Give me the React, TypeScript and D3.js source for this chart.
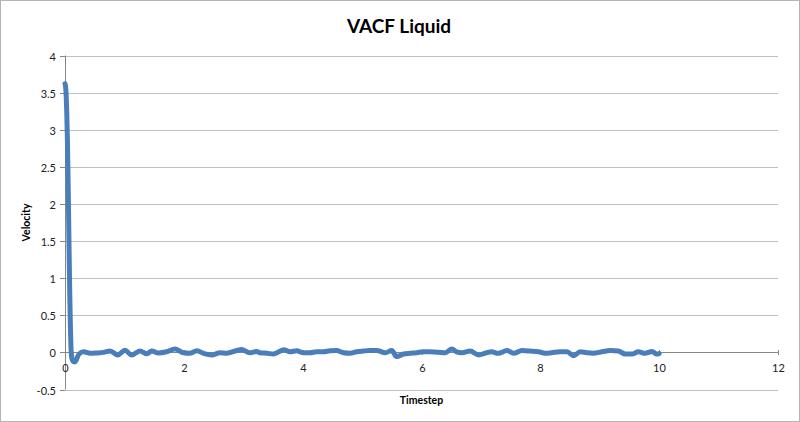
import React from "react";
import * as d3 from "d3";

const title = "VACF Liquid";
const xLabel = "Timestep";
const yLabel = "Velocity";
const xTicks = [0, 2, 4, 6, 8, 10, 12];
const yTicks = [-0.5, 0, 0.5, 1, 1.5, 2, 2.5, 3, 3.5, 4];

const times = [
  0.0, 0.01, 0.02, 0.03, 0.04, 0.05, 0.06, 0.07, 0.08, 0.09, 0.1, 0.115, 0.135, 0.16, 0.185, 0.21, 0.24,
  0.31, 0.42, 0.53, 0.65, 0.76, 0.89, 1.01, 1.12, 1.26, 1.38, 1.46, 1.57,
  1.71, 1.85, 1.99, 2.1, 2.22, 2.33, 2.47, 2.61, 2.72, 2.89, 2.97, 3.11, 3.23,
  3.28, 3.4, 3.51, 3.68, 3.79, 3.9, 4.01, 4.12, 4.24, 4.35, 4.46, 4.57, 4.69, 4.8, 4.91,
  5.02, 5.13, 5.25, 5.39, 5.5, 5.58, 5.7, 5.81, 5.92, 6.03, 6.14, 6.28, 6.4, 6.51, 6.59, 6.68,
  6.82, 6.96, 7.07, 7.18, 7.29, 7.44, 7.55, 7.69, 7.83, 7.97, 8.08, 8.19, 8.33,
  8.45, 8.56, 8.67, 8.78, 8.89, 9.04, 9.18, 9.31, 9.43, 9.54, 9.65, 9.76, 9.88, 9.96, 10.0,
];
const velocities = [
  3.62, 3.58, 3.46, 3.22, 2.88, 2.42, 1.88, 1.32, 0.8, 0.38, 0.08, -0.08, -0.12, -0.13, -0.11, -0.06, -0.02,
  0.01, -0.012, -0.008, 0.0, 0.02, -0.035, 0.03, -0.035, 0.02, -0.02, 0.02, -0.007,
  0.008, 0.045, -0.005, -0.012, 0.022, -0.012, -0.035, -0.005, -0.012, 0.025, 0.04, -0.005, 0.013,
  -0.005, -0.012, -0.022, 0.035, 0.008, 0.022, -0.005, -0.005, 0.008, 0.008, 0.022, 0.025, -0.005, -0.012, 0.008,
  0.018, 0.025, 0.025, -0.005, 0.025, -0.055, -0.022, -0.012, -0.005, 0.008, 0.008, 0.003, -0.005, 0.045, 0.008, -0.005,
  0.018, -0.035, -0.012, 0.008, -0.012, 0.025, -0.012, 0.025, 0.018, 0.008, -0.012, -0.005, 0.008,
  0.008, -0.045, 0.008, -0.005, -0.012, 0.008, 0.025, 0.018, -0.022, -0.022, 0.008, -0.012, 0.013, -0.022, -0.015,
];

const W = 800;
const H = 422;

export default function App() {
  const x = d3.scaleLinear().domain([0, 12]).range([65, 778]);
  const y = d3.scaleLinear().domain([-0.5, 4]).range([389.5, 55.5]);
  const data = times.map((t, i) => ({ t, v: velocities[i] }));
  const line = d3
    .line<{ t: number; v: number }>()
    .x((d) => x(d.t))
    .y((d) => y(d.v))
    .curve(d3.curveMonotoneX);
  const font = "Lato, 'Liberation Sans', sans-serif";
  const x0 = x(0);
  const y0 = Math.round(y(0)) + 0.5;

  return (
    <svg
      width={W}
      height={H}
      style={{ position: "absolute", left: 0, top: 0, background: "#fff" }}
      fontFamily={font}
    >
      <rect x={0.5} y={0.5} width={W - 1} height={H - 1} fill="#fff" stroke="#b3b3b3" />
      <text x={399} y={33} textAnchor="middle" fontSize={19} fontWeight="bold" fill="#000">
        {title}
      </text>
      {yTicks.map((t) => {
        const yy = Math.round(y(t)) + 0.5;
        return (
          <g key={t}>
            {t !== 0 && (
              <line x1={x0} x2={x(12)} y1={yy} y2={yy} stroke="#c0c0c0" strokeWidth={1} />
            )}
            <line x1={x0 - 5} x2={x0} y1={yy} y2={yy} stroke="#868686" />
            <text x={x0 - 9} y={yy + 4} textAnchor="end" fontSize={11} fill="#222">
              {t}
            </text>
          </g>
        );
      })}
      <line x1={x0 + 0.5} x2={x0 + 0.5} y1={y(4)} y2={y(-0.5)} stroke="#868686" />
      <line x1={x0} x2={x(12)} y1={y0} y2={y0} stroke="#868686" />
      {xTicks.map((t) => {
        const xx = Math.round(x(t)) + 0.5;
        return (
          <g key={t}>
            <line x1={xx} x2={xx} y1={y0 - 2.5} y2={y0 + 2.5} stroke="#868686" />
            <text x={xx} y={y0 + 19} textAnchor="middle" fontSize={11} fill="#222">
              {t}
            </text>
          </g>
        );
      })}
      <path
        d={line(data) || ""}
        fill="none"
        stroke="#4a7ebb"
        strokeWidth={5}
        strokeLinejoin="round"
        strokeLinecap="round"
      />
      <text x={(x(0) + x(12)) / 2} y={404} textAnchor="middle" fontSize={10.5} fontWeight="bold" fill="#000">
        {xLabel}
      </text>
      <text
        transform={`translate(30, ${y(1.75)}) rotate(-90)`}
        textAnchor="middle"
        fontSize={10.5}
        fontWeight="bold"
        fill="#000"
      >
        {yLabel}
      </text>
    </svg>
  );
}
